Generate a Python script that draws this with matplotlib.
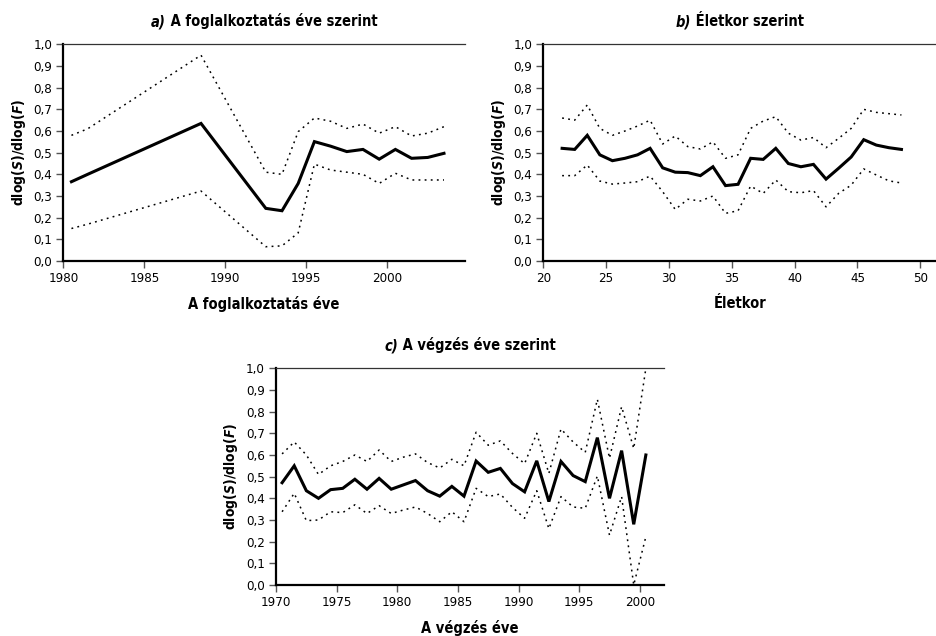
import matplotlib
matplotlib.use("Agg")
import matplotlib.pyplot as plt
from matplotlib.ticker import MultipleLocator, FuncFormatter

plt.rcParams['font.family'] = ['DejaVu Sans']
plt.rcParams['font.stretch'] = 'condensed'
plt.rcParams['mathtext.fontset'] = 'custom'
plt.rcParams['mathtext.rm'] = 'DejaVu Sans:bold'
plt.rcParams['mathtext.it'] = 'DejaVu Sans:italic:bold'

# a) by year of employment
year_a = [1980.5, 1981.5, 1988.5, 1992.5, 1993.5, 1994.5, 1995.5, 1996.5,
          1997.5, 1998.5, 1999.5, 2000.5, 2001.5, 2002.5, 2003.5]
mid_a = [0.366, 0.40, 0.635, 0.243, 0.232, 0.358, 0.551, 0.53,
         0.505, 0.515, 0.47, 0.515, 0.474, 0.478, 0.497]
up_a = [0.58, 0.61, 0.95, 0.41, 0.40, 0.597, 0.66, 0.645,
        0.612, 0.632, 0.59, 0.62, 0.577, 0.59, 0.62]
lo_a = [0.15, 0.17, 0.323, 0.066, 0.07, 0.13, 0.447, 0.42,
        0.41, 0.40, 0.358, 0.405, 0.374, 0.374, 0.374]

# b) by age
age_b = [21.5, 22.5, 23.5, 24.5, 25.5, 26.5, 27.5, 28.5, 29.5, 30.5,
         31.5, 32.5, 33.5, 34.5, 35.5, 36.5, 37.5, 38.5, 39.5, 40.5,
         41.5, 42.5, 43.5, 44.5, 45.5, 46.5, 47.5, 48.5]
mid_b = [0.52, 0.515, 0.58, 0.49, 0.463, 0.474, 0.49, 0.52, 0.43, 0.41,
         0.408, 0.394, 0.435, 0.348, 0.354, 0.474, 0.469, 0.52, 0.45, 0.435,
         0.446, 0.378, 0.428, 0.48, 0.56, 0.535, 0.523, 0.515]
up_b = [0.66, 0.65, 0.72, 0.612, 0.58, 0.60, 0.623, 0.65, 0.54, 0.577,
        0.528, 0.517, 0.55, 0.474, 0.49, 0.612, 0.646, 0.666, 0.59, 0.558,
        0.57, 0.523, 0.566, 0.612, 0.70, 0.686, 0.68, 0.674]
lo_b = [0.394, 0.394, 0.443, 0.369, 0.355, 0.36, 0.366, 0.392, 0.32, 0.238,
        0.285, 0.277, 0.30, 0.22, 0.232, 0.346, 0.312, 0.374, 0.32, 0.315,
        0.325, 0.25, 0.312, 0.35, 0.425, 0.397, 0.37, 0.36]

# c) by year of graduation
year_c = [1970.5, 1971.5, 1972.5, 1973.5, 1974.5, 1975.5, 1976.5, 1977.5,
          1978.5, 1979.5, 1980.5, 1981.5, 1982.5, 1983.5, 1984.5, 1985.5,
          1986.5, 1987.5, 1988.5, 1989.5, 1990.5, 1991.5, 1992.5, 1993.5,
          1994.5, 1995.5, 1996.5, 1997.5, 1998.5, 1999.5, 2000.5]
mid_c = [0.472, 0.55, 0.435, 0.40, 0.44, 0.446, 0.488, 0.442,
         0.492, 0.442, 0.462, 0.482, 0.435, 0.41, 0.455, 0.41,
         0.572, 0.52, 0.538, 0.468, 0.43, 0.573, 0.385, 0.57,
         0.505, 0.477, 0.68, 0.40, 0.62, 0.28, 0.60]
up_c = [0.605, 0.66, 0.60, 0.51, 0.55, 0.57, 0.60, 0.57,
        0.623, 0.57, 0.59, 0.605, 0.565, 0.54, 0.58, 0.55,
        0.705, 0.645, 0.665, 0.607, 0.56, 0.70, 0.515, 0.72,
        0.66, 0.612, 0.857, 0.585, 0.823, 0.63, 1.0]
lo_c = [0.338, 0.423, 0.297, 0.30, 0.338, 0.334, 0.37, 0.33,
        0.366, 0.33, 0.346, 0.36, 0.33, 0.292, 0.338, 0.292,
        0.446, 0.408, 0.42, 0.358, 0.308, 0.435, 0.26, 0.408,
        0.36, 0.354, 0.503, 0.23, 0.408, 0.0, 0.223]

YLAB = r'dlog($\mathit{S}$)/dlog($\mathit{F}$)'

fig = plt.figure(figsize=(9.37, 6.36), dpi=100)
ax_a = fig.add_axes([0.0676, 0.5896, 0.4287, 0.3407])
ax_b = fig.add_axes([0.5798, 0.5896, 0.4198, 0.3407])
ax_c = fig.add_axes([0.2946, 0.0802, 0.4141, 0.3407])

panels = [
    (ax_a, year_a, mid_a, up_a, lo_a, (1980, 2004.8), 'a)',
     ' A foglalkoztatás éve szerint', 'A foglalkoztatás éve'),
    (ax_b, age_b, mid_b, up_b, lo_b, (20, 51.3), 'b)',
     ' Életkor szerint', 'Életkor'),
    (ax_c, year_c, mid_c, up_c, lo_c, (1970, 2002), 'c)',
     ' A végzés éve szerint', 'A végzés éve'),
]

titles = []
for ax, x, mid, up, lo, xlim, lead, rest, xlab in panels:
    ax.plot(x, up, color='black', lw=1.1, linestyle=(0, (1.2, 2.8)))
    ax.plot(x, lo, color='black', lw=1.1, linestyle=(0, (1.2, 2.8)))
    ax.plot(x, mid, color='black', lw=2.2, solid_joinstyle='miter')
    ax.set_xlim(*xlim)
    ax.set_ylim(0, 1.0)
    ax.yaxis.set_major_locator(MultipleLocator(0.1))
    ax.xaxis.set_major_locator(MultipleLocator(5))
    ax.yaxis.set_major_formatter(FuncFormatter(lambda v, p: f'{v:.1f}'.replace('.', ',')))
    ax.spines['right'].set_visible(False)
    ax.spines['left'].set_linewidth(1.6)
    ax.spines['bottom'].set_linewidth(1.6)
    ax.spines['top'].set_linewidth(0.9)
    ax.spines['top'].set_color('#333333')
    ax.tick_params(direction='out', length=5, width=1, color='#555555',
                   labelsize=9.5, pad=3)
    ax.set_ylabel(YLAB, fontsize=10, fontweight='bold', labelpad=4)
    ax.set_xlabel(xlab, fontsize=10.5, fontweight='bold', labelpad=8)
    t1 = ax.text(0, 1.07, lead, transform=ax.transAxes, fontsize=10.5,
                 fontstyle='italic', fontweight='bold', va='bottom')
    t2 = ax.annotate(rest, xy=(1, 0), xycoords=t1, va='bottom',
                     fontsize=10.5, fontweight='bold')
    titles.append((ax, t1, t2))

# centre the two-part titles over each axes
fig.canvas.draw()
r = fig.canvas.get_renderer()
for ax, t1, t2 in titles:
    w = t1.get_window_extent(r).width + t2.get_window_extent(r).width
    axw = ax.get_window_extent(r).width
    t1.set_x(0.5 - w / 2 / axw)

fig.savefig('out.png', dpi=100)
